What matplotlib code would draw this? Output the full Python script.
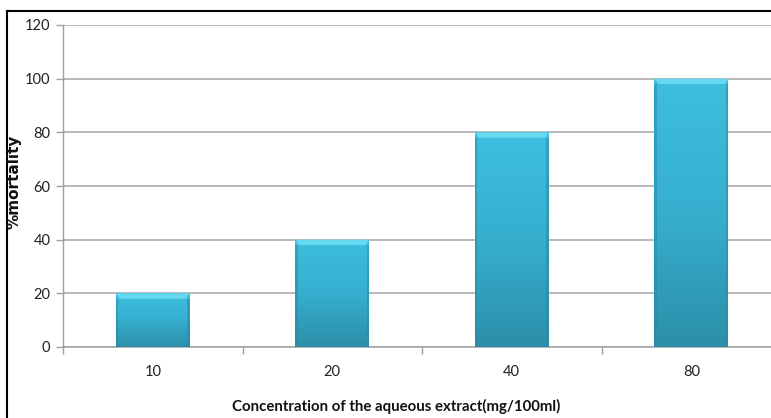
import matplotlib
matplotlib.use("Agg")
import matplotlib.pyplot as plt
import numpy as np
from matplotlib.colors import LinearSegmentedColormap
from matplotlib.patches import Rectangle, Polygon

categories = ["10", "20", "40", "80"]
mortality = [20, 40, 80, 100]
y_ticks = [0, 20, 40, 60, 80, 100, 120]

plt.rcParams['font.family'] = ['Lato', 'DejaVu Sans']

W, H = 771, 418
fig = plt.figure(figsize=(W / 100, H / 100), dpi=100)
fig.patch.set_facecolor("white")

left, right, top, bottom = 63, 781, 25, 347
ax = fig.add_axes([left / W, (H - bottom) / H, (right - left) / W, (bottom - top) / H])

x = np.arange(len(categories))
width = 0.41
bars = ax.bar(x, mortality, width=width, facecolor="none", edgecolor="none", zorder=3)

cmap = LinearSegmentedColormap.from_list("bev", ["#2B8FA9", "#36AFCF", "#3DBFE0"])
grad = np.linspace(0, 1, 256).reshape(-1, 1)
for b in bars:
    x0, w, h = b.get_x(), b.get_width(), b.get_height()
    im = ax.imshow(grad, cmap=cmap, aspect="auto", origin="lower",
                   extent=[x0, x0 + w, 0, h], zorder=3, interpolation="bilinear")
    im.set_clip_path(b)
    # top bevel (trapezoid)
    bev_h = 2.0
    dx = w * 0.05
    ax.add_patch(Polygon([(x0, h), (x0 + w, h), (x0 + w - dx, h - bev_h), (x0 + dx, h - bev_h)],
                         closed=True, facecolor="#66D8F0", edgecolor="none", zorder=4))
    # side shading
    ax.add_patch(Rectangle((x0, 0), w * 0.03, h - bev_h, facecolor="#2A8AA3", edgecolor="none", alpha=0.55, zorder=4))
    ax.add_patch(Rectangle((x0 + w * 0.97, 0), w * 0.03, h - bev_h, facecolor="#2A8AA3", edgecolor="none", alpha=0.55, zorder=4))

ax.set_xlim(-0.5, len(categories) - 0.5)
ax.set_ylim(0, 120)
ax.set_yticks(y_ticks)
ax.set_yticklabels([str(v) for v in y_ticks], fontsize=10.5, color="#222222")
ax.set_xticks(x)
ax.set_xticklabels(categories, fontsize=10.5, color="#222222")
ax.set_xticks(np.arange(len(categories) + 1) - 0.5, minor=True)
ax.tick_params(axis="x", which="major", length=0, pad=13)
ax.tick_params(axis="x", which="minor", length=5, color="#A0A0A0", width=1)
ax.tick_params(axis="y", length=5, color="#A0A0A0", width=1, pad=4)

ax.grid(axis="y", color="#A6A6A6", linewidth=1.1, zorder=1)
ax.set_axisbelow(True)
for s in ["top", "right"]:
    ax.spines[s].set_visible(False)
ax.spines["left"].set_color("#A0A0A0")
ax.spines["bottom"].set_color("#A0A0A0")
ax.spines["left"].set_linewidth(1)
ax.spines["bottom"].set_linewidth(1.1)

fig.text(14 / W, (H - 182) / H, "%mortality", rotation=90, fontsize=11, fontweight="bold",
         ha="center", va="center", color="#111111", family=["DejaVu Sans"])
fig.text(396 / W, (H - 406) / H, "Concentration of the aqueous extract(mg/100ml)", fontsize=10.8,
         fontweight="bold", ha="center", va="center", color="#111111")

# outer chart border (cropped on right/bottom)
fig.add_artist(plt.Line2D([7 / W, 7 / W], [0, (H - 10.5) / H], color="black", linewidth=1.5,
                          transform=fig.transFigure))
fig.add_artist(plt.Line2D([7 / W, 1], [(H - 10.5) / H, (H - 10.5) / H], color="black", linewidth=1.5,
                          transform=fig.transFigure))

fig.savefig("out.png", dpi=100)
